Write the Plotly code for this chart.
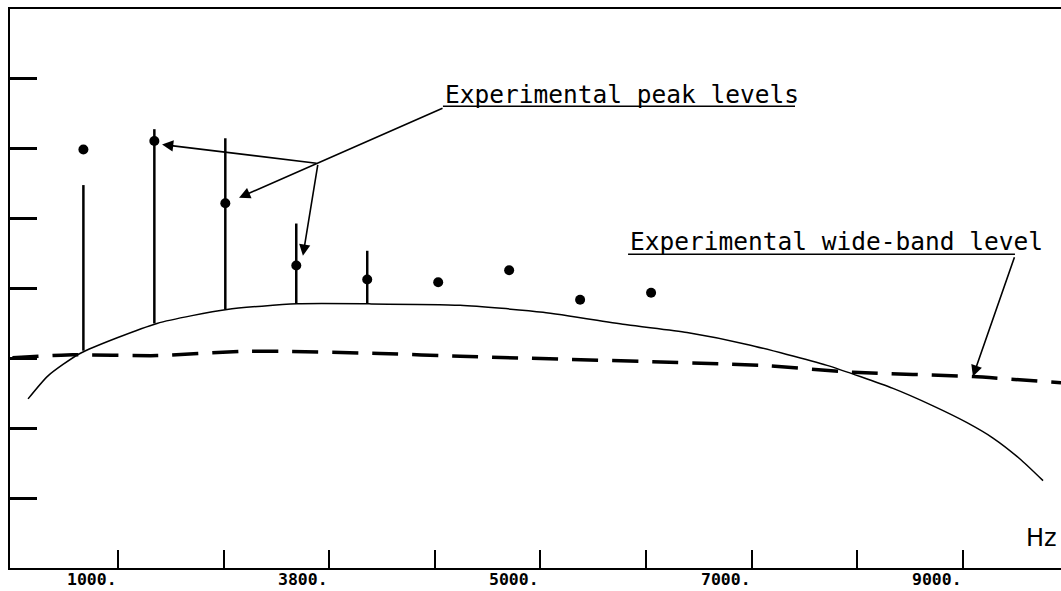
import plotly.graph_objects as go

# ---- data ----
curve_hz = [148, 337, 640, 1369, 2032, 2695, 3377, 4239, 5025, 5820,
            6388, 6957, 7714, 8339, 8718, 9040, 9286, 9542, 9760]
curve_level = [2.42, 2.75, 3.07, 3.50, 3.70, 3.78, 3.78, 3.76, 3.66, 3.48,
               3.37, 3.20, 2.90, 2.57, 2.32, 2.08, 1.86, 1.56, 1.25]

wideband_hz = [0, 517, 1369, 2155, 2563, 3481, 4239, 7080, 7960, 9096, 9930]
wideband_level = [3.01, 3.05, 3.04, 3.10, 3.10, 3.07, 3.03, 2.90, 2.80, 2.74, 2.65]

peak_hz = [672, 1344, 2016, 2688, 3360, 4032, 4704, 5376, 6048]
peak_level = [5.99, 6.11, 5.22, 4.33, 4.13, 4.09, 4.26, 3.84, 3.94]

stem_hz = [672, 1344, 2016, 2688, 3360]
stem_top = [5.48, 6.28, 6.15, 4.93, 4.54]
stem_base = [3.11, 3.50, 3.70, 3.78, 3.78]

x_tick_hz = [1000, 2000, 3000, 4000, 5000, 6000, 7000, 8000, 9000]
y_tick_levels = [1, 2, 3, 4, 5, 6, 7]
label_hz = [1000, 3000, 5000, 7000, 9000]
tick_labels = ["1000.", "3800.", "5000.", "7000.", "9000."]

# ---- figure ----
fig = go.Figure()

fig.add_trace(go.Scatter(x=curve_hz, y=curve_level, mode="lines",
                         line=dict(color="black", width=1.5, shape="spline", smoothing=0.6),
                         hoverinfo="skip", showlegend=False))

fig.add_trace(go.Scatter(x=wideband_hz, y=wideband_level, mode="lines",
                         line=dict(color="black", width=3.5, dash="26px,14px", shape="spline", smoothing=0.5),
                         hoverinfo="skip", showlegend=False))

sx, sy = [], []
for f, b, t in zip(stem_hz, stem_base, stem_top):
    sx += [f, f, None]
    sy += [b, t, None]
fig.add_trace(go.Scatter(x=sx, y=sy, mode="lines",
                         line=dict(color="black", width=2.5),
                         hoverinfo="skip", showlegend=False))

fig.add_trace(go.Scatter(x=peak_hz, y=peak_level, mode="markers",
                         marker=dict(color="black", size=10),
                         hoverinfo="skip", showlegend=False))

TXT = dict(family="DejaVu Sans Mono", size=24.5, color="black")
annotations = []

# label texts
annotations.append(dict(x=4077, y=6.60, xref="x", yref="y", xanchor="left", yanchor="bottom",
                        yshift=-4, text="Experimental peak levels", showarrow=False, font=TXT))
annotations.append(dict(x=5830, y=4.49, xref="x", yref="y", xanchor="left", yanchor="bottom",
                        yshift=-4, text="Experimental wide-band level", showarrow=False, font=TXT))

# leader arrows (tip, tail)
arrows = [((1417, 6.06), (2894, 5.79)),
          ((2146, 5.30), (4087, 6.59)),
          ((2751, 4.47), (2894, 5.79)),
          ((9096, 2.74), (9494, 4.47))]
for (tx, ty), (ax, ay) in arrows:
    annotations.append(dict(x=tx, y=ty, ax=ax, ay=ay, xref="x", yref="y", axref="x", ayref="y",
                            text="", showarrow=True, arrowhead=2, arrowsize=1.4,
                            arrowwidth=1.6, arrowcolor="black", standoff=0, startstandoff=0))

# x tick labels
for f, lab in zip(label_hz, tick_labels):
    annotations.append(dict(x=f, y=0, xref="x", yref="y", xanchor="right", yanchor="top",
                            xshift=0, yshift=-1, text=lab, showarrow=False, borderpad=0,
                            font=dict(family="DejaVu Sans Mono", size=16.5, color="black", weight="bold")))

annotations.append(dict(x=1, y=0.2, xref="paper", yref="y", xanchor="right", yanchor="bottom",
                        xshift=-2, text="Hz", showarrow=False,
                        font=dict(family="DejaVu Sans", size=24, color="black")))

shapes = [
    dict(type="line", xref="x", yref="y", x0=4077, x1=7411, y0=6.61, y1=6.61,
         line=dict(color="black", width=1.5)),
    dict(type="line", xref="x", yref="y", x0=5830, x1=9494, y0=4.49, y1=4.49,
         line=dict(color="black", width=1.5)),
]

fig.update_layout(
    width=1061, height=591,
    margin=dict(l=10, r=0, t=9, b=23, pad=0),
    paper_bgcolor="white", plot_bgcolor="white",
    showlegend=False,
    annotations=annotations,
    shapes=shapes,
    xaxis=dict(range=[-23, 9930], showline=True, linecolor="black", linewidth=2, mirror=True,
               ticks="inside", tickvals=x_tick_hz, ticklen=18, tickwidth=1.5, tickcolor="black",
               showticklabels=False, showgrid=False, zeroline=False),
    yaxis=dict(range=[0, 8], showline=True, linecolor="black", linewidth=2,
               ticks="inside", tickvals=y_tick_levels, ticklen=27, tickwidth=2.5, tickcolor="black",
               showticklabels=False, showgrid=False, zeroline=False),
)

fig.write_html("out.html", config={"displayModeBar": False},
               post_script="document.body.style.margin='0';document.body.style.overflow='hidden';")
